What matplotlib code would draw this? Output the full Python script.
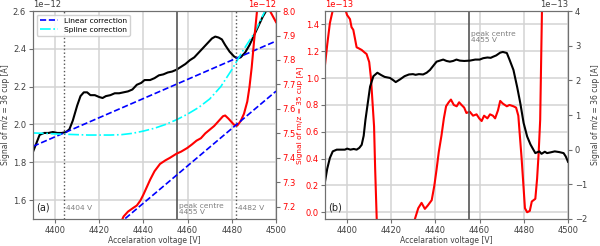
import numpy as np
import matplotlib.pyplot as plt

# ---- panel (a): m/z=36 (left, 1e-12) and m/z=35 (right, 1e-12)
a36_x = [4390, 4391.5, 4393, 4395, 4397, 4399, 4401, 4403, 4405, 4406.5, 4408, 4410, 4411.5,
         4413, 4414.5, 4416, 4418, 4420, 4421.5, 4423, 4425, 4427, 4429, 4431, 4433, 4435,
         4437, 4439, 4440.5, 4443, 4445, 4447, 4449, 4451, 4453, 4455, 4457, 4459, 4461,
         4463, 4465, 4467, 4469, 4471, 4472.5, 4474, 4475.5, 4477, 4479, 4481, 4482.5,
         4484, 4486, 4488, 4490, 4492, 4494, 4496]
a36_y = [1.855, 1.90, 1.945, 1.955, 1.955, 1.96, 1.955, 1.955, 1.96, 1.975, 2.02, 2.10, 2.15,
         2.17, 2.17, 2.155, 2.155, 2.145, 2.14, 2.15, 2.155, 2.165, 2.165, 2.17, 2.175, 2.185,
         2.21, 2.22, 2.235, 2.235, 2.245, 2.26, 2.265, 2.275, 2.28, 2.29, 2.305, 2.32, 2.34,
         2.355, 2.38, 2.405, 2.43, 2.455, 2.465, 2.46, 2.45, 2.42, 2.385, 2.36, 2.35,
         2.355, 2.38, 2.42, 2.47, 2.52, 2.57, 2.61]

spline_x = [4390, 4395, 4400, 4405, 4410, 4415, 4420, 4425, 4430, 4435, 4440, 4445, 4450,
            4455, 4460, 4465, 4470, 4475, 4480, 4482, 4485, 4490, 4495, 4496]
spline_y = [1.955, 1.953, 1.95, 1.948, 1.946, 1.944, 1.944, 1.944, 1.946, 1.953, 1.965, 1.98,
            2.0, 2.025, 2.055, 2.09, 2.135, 2.2, 2.29, 2.33, 2.39, 2.48, 2.6, 2.62]

a35_x = [4429, 4431, 4433, 4435.5, 4437, 4438.6, 4440, 4441.5, 4443, 4445, 4447.5, 4450, 4452,
         4455, 4457, 4459.8, 4462, 4464, 4466, 4468, 4470, 4472, 4474, 4476, 4477, 4478.5,
         4480, 4481, 4482.5, 4484, 4485.5, 4487, 4488, 4489, 4490, 4491.4, 4492.5, 4494,
         4496, 4497.3, 4500]
a35_y = [7.12, 7.16, 7.18, 7.196, 7.205, 7.225, 7.25, 7.28, 7.31, 7.345, 7.375, 7.39, 7.40,
         7.417, 7.425, 7.44, 7.455, 7.47, 7.48, 7.5, 7.515, 7.53, 7.55, 7.57, 7.573, 7.56,
         7.545, 7.535, 7.532, 7.55, 7.58, 7.63, 7.69, 7.77, 7.87, 8.0, 8.1, 8.15,
         8.08, 8.0, 7.955]

# anchor points of the linear corrections
lin_anchor_x = [4404, 4482]
lin36_anchor = [1.955, 2.35]
lin35_anchor = [6.94, 7.535]

# ---- panel (b): m/z=35 (left, 1e-13) and m/z=36 (right, 1e-13)
b36_x = [4390, 4391, 4392.2, 4393.5, 4395.3, 4397, 4399, 4400, 4401.5, 4403, 4404.3, 4405.5,
         4406.6, 4407.5, 4408.3, 4410.4, 4411.9, 4413.7, 4415.5, 4417, 4419.4, 4421, 4422,
         4424, 4426, 4428, 4429.8, 4431, 4432.5, 4434.4, 4436, 4437.5, 4439, 4440.5, 4442,
         4443.5, 4445, 4446.5, 4448, 4449.5, 4451, 4453, 4455.6, 4458, 4460, 4461.6, 4463.5,
         4465, 4466, 4467.5, 4469.3, 4470.5, 4472.3, 4473.5, 4475.3, 4477, 4478.4, 4479.9,
         4481.5, 4483, 4485.2, 4487, 4488, 4489.5, 4490.5, 4492, 4494, 4496, 4498, 4499, 4500]
b36_y = [-0.92, -0.55, -0.24, -0.05, 0.0, 0.0, 0.0, 0.03, 0.0, 0.02, 0.0, 0.05,
         0.14, 0.4, 0.86, 1.82, 2.12, 2.22, 2.15, 2.1, 2.07, 2.0, 1.95,
         2.03, 2.12, 2.17, 2.18, 2.16, 2.18, 2.17, 2.22, 2.3, 2.42, 2.54, 2.57,
         2.6, 2.56, 2.54, 2.56, 2.6, 2.57, 2.56, 2.57, 2.6, 2.6, 2.64, 2.66,
         2.65, 2.68, 2.72, 2.8, 2.82, 2.79, 2.6, 2.3, 1.8, 1.34, 0.77,
         0.38, 0.15, -0.1, -0.05, -0.12, -0.06, -0.1, -0.08, -0.05, -0.07, -0.1, -0.2, -0.35]

b35_x = [4390, 4391, 4392.2, 4393.7, 4395, 4397.5, 4399, 4400, 4401.3, 4402, 4402.8, 4403.5,
         4404.3, 4405.5, 4406.6, 4408, 4408.8, 4410, 4410.8, 4412.2, 4412.7, 4413.4, 4414,
         4416, 4428, 4430, 4430.7, 4432.2, 4433.7, 4435.2, 4436.5, 4438.3, 4439.5, 4440.5,
         4441.5, 4442.7, 4443.8, 4444.8, 4446, 4447, 4448.3, 4449.6, 4450.7, 4451.8, 4453,
         4454, 4455.5, 4457, 4458.6, 4459.8, 4460.9, 4462, 4463.5, 4464.7, 4466, 4467,
         4468.3, 4469.3, 4470.5, 4472.3, 4473.5, 4475.3, 4476.5, 4477.5, 4479, 4480.5,
         4481.5, 4482.7, 4483.6, 4485.2, 4486, 4486.7, 4487.4, 4488.2, 4488.8]
b35_y = [1.10, 1.25, 1.41, 1.52, 1.58, 1.58, 1.52, 1.47, 1.44, 1.38, 1.36, 1.30,
         1.23, 1.22, 1.21, 1.19, 1.18, 1.12, 1.0, 0.64, 0.32, -0.05, -0.4,
         -0.6, -0.6, -0.1, -0.05, 0.03, 0.07, 0.025, 0.05, 0.09, 0.2, 0.32,
         0.45, 0.57, 0.7, 0.79, 0.82, 0.84, 0.8, 0.79, 0.82, 0.8, 0.78,
         0.74, 0.75, 0.72, 0.73, 0.70, 0.68, 0.72, 0.7, 0.73, 0.72, 0.70,
         0.76, 0.83, 0.81, 0.79, 0.8, 0.79, 0.78, 0.72, 0.4, 0.03,
         0.0, 0.01, 0.08, 0.1, 0.25, 0.44, 0.69, 1.5, 1.8]

peak_centre = 4455
win_lo, win_hi = 4404, 4482

FS = 6.0     # tick labels
LFS = 5.5    # axis labels
AFS = 5.4    # annotations / legend
GRAY = '#404040'
SPINE = '#707070'
GRID = '#d3d3d3'


def style(ax, color, pad=2):
    ax.tick_params(axis='y', labelsize=FS, labelcolor=color, colors=SPINE, length=3, pad=pad)
    ax.yaxis.get_offset_text().set_fontsize(FS)
    ax.yaxis.get_offset_text().set_color(color)
    for s in ax.spines.values():
        s.set_color(SPINE)


fig = plt.figure(figsize=(6, 2.46), dpi=100)
axA = fig.add_axes([0.055, 0.11, 0.405, 0.845])
axB = fig.add_axes([0.5417, 0.11, 0.405, 0.845])

# ---------------- panel (a)
lx = np.array([4390, 4500])
c36 = np.polyfit(lin_anchor_x, lin36_anchor, 1)
c35 = np.polyfit(lin_anchor_x, lin35_anchor, 1)

axA.grid(True, color=GRID, lw=1.1)
axA.set_axisbelow(True)
axA.plot(np.array(a36_x), np.array(a36_y) * 1e-12, color='black', lw=1.5)
axA.plot(lx, np.polyval(c36, lx) * 1e-12, color='blue', ls='--', lw=1.2, label='Linear correction')
axA.plot(np.array(spline_x), np.array(spline_y) * 1e-12, color='cyan', ls='-.', lw=1.2,
         label='Spline correction')
axA.axvline(peak_centre, color='#555555', lw=1.2)
axA.axvline(win_lo, color='#555555', lw=1, ls=':')
axA.axvline(win_hi, color='#555555', lw=1, ls=':')
axA.set_xlim(4390, 4500)
axA.set_ylim(1.5e-12, 2.6e-12)
axA.set_yticks(np.array([1.6, 1.8, 2.0, 2.2, 2.4, 2.6]) * 1e-12)
axA.set_xticks([4400, 4420, 4440, 4460, 4480, 4500])
axA.tick_params(axis='x', labelsize=FS, labelcolor=GRAY, colors=SPINE, length=3, pad=2)
axA.set_xlabel('Accelaration voltage [V]', fontsize=LFS, color=GRAY, labelpad=1)
axA.set_ylabel('Signal of m/z = 36 cup [A]', fontsize=LFS, color=GRAY, labelpad=2)
style(axA, GRAY)
axA.legend(loc='upper left', fontsize=AFS, handlelength=2.4, borderpad=0.4, labelspacing=0.3,
           framealpha=0.9)
axA.text(0.012, 0.04, '(a)', transform=axA.transAxes, fontsize=7, color='#222222')
axA.text(win_lo + 0.8, 0.045, '4404 V', transform=axA.get_xaxis_transform(), fontsize=AFS,
         color='gray')
axA.text(peak_centre + 1, 0.025, 'peak centre\n4455 V', transform=axA.get_xaxis_transform(),
         fontsize=AFS, color='gray', linespacing=1.0)
axA.text(win_hi + 0.8, 0.045, '4482 V', transform=axA.get_xaxis_transform(), fontsize=AFS,
         color='gray')

axA2 = axA.twinx()
axA2.plot(np.array(a35_x), np.array(a35_y) * 1e-12, color='red', lw=1.5)
axA2.plot(lx, np.polyval(c35, lx) * 1e-12, color='blue', ls='--', lw=1.2)
axA2.set_ylim(7.15e-12, 8.0e-12)
axA2.set_yticks(np.array([7.2, 7.3, 7.4, 7.5, 7.6, 7.7, 7.8, 7.9, 8.0]) * 1e-12)
axA2.set_ylabel('Signal of m/z = 35 cup [A]', fontsize=5.3, color='red', labelpad=0.5)
style(axA2, 'red', pad=1.5)

# ---------------- panel (b)
axB.grid(True, color=GRID, lw=1.1)
axB.set_axisbelow(True)
axB.plot(np.array(b35_x), np.array(b35_y) * 1e-13, color='red', lw=1.5)
axB.axvline(peak_centre, color='#555555', lw=1.2)
axB.set_xlim(4390, 4500)
axB.set_ylim(-0.05e-13, 1.5e-13)
axB.set_yticks(np.array([0.0, 0.2, 0.4, 0.6, 0.8, 1.0, 1.2, 1.4]) * 1e-13)
axB.set_xticks([4400, 4420, 4440, 4460, 4480, 4500])
axB.tick_params(axis='x', labelsize=FS, labelcolor=GRAY, colors=SPINE, length=3, pad=2)
axB.set_xlabel('Accelaration voltage [V]', fontsize=LFS, color=GRAY, labelpad=1)
# the left label of (b) sits exactly under the right label of (a) in the reference,
# so only one copy of "Signal of m/z = 35 cup [A]" is drawn between the panels
style(axB, 'red', pad=1.5)
axB.text(0.012, 0.04, '(b)', transform=axB.transAxes, fontsize=7, color='#222222')
axB.text(peak_centre + 1, 0.85, 'peak centre\n4455 V', transform=axB.get_xaxis_transform(),
         fontsize=AFS, color='gray', linespacing=1.0)

axB2 = axB.twinx()
axB2.plot(np.array(b36_x), np.array(b36_y) * 1e-13, color='black', lw=1.5)
axB2.set_ylim(-2e-13, 4e-13)
axB2.set_yticks(np.array([-2, -1, 0, 1, 2, 3, 4]) * 1e-13)
axB2.set_ylabel('Signal of m/z = 36 cup [A]', fontsize=LFS, color=GRAY, labelpad=3)
style(axB2, GRAY)

fig.savefig('out.png', dpi=100)
